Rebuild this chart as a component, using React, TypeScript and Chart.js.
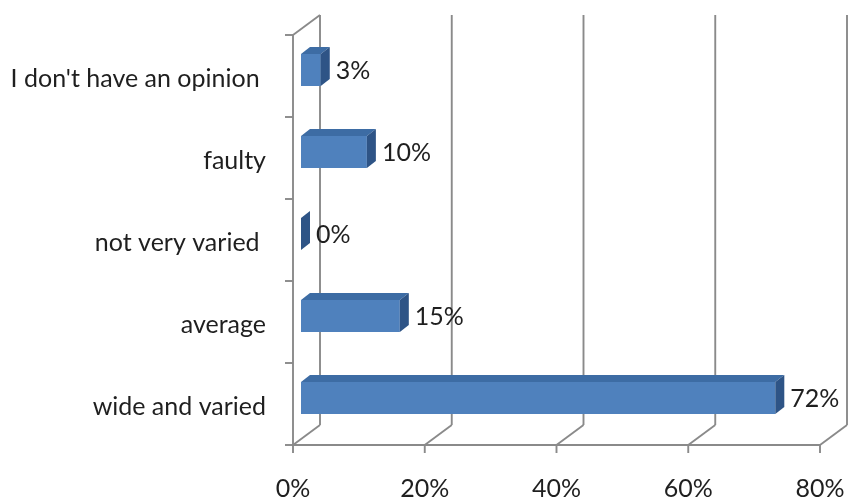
import React, { useEffect, useRef } from "react";
import { Chart, registerables } from "chart.js";

Chart.register(...registerables);

// Survey answers, listed top to bottom
const categories = [
  "I don't have an opinion ",
  "faulty",
  "not very varied ",
  "average",
  "wide and varied",
];
const shares = [3, 10, 0, 15, 72];
const xTicks = [0, 20, 40, 60, 80];

const FONT = "Lato, 'Open Sans', sans-serif";
const FONT_SIZE = 25;
const TEXT = "#1f1f1f";
const GRID = "#8a8a8a";
const FRONT = "#4F81BD";
const TOP = "#3D6CA4";
const SIDE = "#2E5486";

// Offsets of the axis planes relative to the plane of the bar fronts
const AXIS_DX = -8;
const AXIS_DY = 6;
const BACK_DX = 19;
const BACK_DY = -14;
// Depth of each bar
const BAR_DX = 9;
const BAR_DY = -7;

const noPadding = (s: any) => {
  s.paddingLeft = 0;
  s.paddingRight = 0;
  s.paddingTop = 0;
  s.paddingBottom = 0;
};

const boxPlugin = {
  id: "box3d",
  beforeDatasetsDraw(chart: any) {
    const { ctx, chartArea } = chart;
    const { left, right, top, bottom } = chartArea;
    const xs = chart.scales.x;
    ctx.save();
    ctx.strokeStyle = GRID;
    ctx.lineWidth = 1.9;
    ctx.lineCap = "butt";
    const line = (x1: number, y1: number, x2: number, y2: number) => {
      ctx.beginPath();
      ctx.moveTo(x1, y1);
      ctx.lineTo(x2, y2);
      ctx.stroke();
    };
    // back wall verticals and floor diagonals
    xTicks.forEach((v) => {
      const px = xs.getPixelForValue(v);
      line(px + BACK_DX, top + BACK_DY, px + BACK_DX, bottom + BACK_DY);
      line(px + AXIS_DX, bottom + AXIS_DY, px + BACK_DX, bottom + BACK_DY);
      line(px + AXIS_DX, bottom + AXIS_DY, px + AXIS_DX, bottom + AXIS_DY + 8);
    });
    // left wall
    line(left + AXIS_DX, top + AXIS_DY, left + AXIS_DX, bottom + AXIS_DY);
    line(left + AXIS_DX, top + AXIS_DY, left + BACK_DX, top + BACK_DY);
    const band = (bottom - top) / categories.length;
    for (let i = 0; i <= categories.length; i++) {
      const y = top + i * band + AXIS_DY;
      line(left + AXIS_DX - 8, y, left + AXIS_DX, y);
    }
    // front floor edge
    line(left + AXIS_DX, bottom + AXIS_DY, right + AXIS_DX, bottom + AXIS_DY);
    ctx.restore();
  },
  afterDatasetsDraw(chart: any) {
    const { ctx } = chart;
    const meta = chart.getDatasetMeta(0);
    ctx.save();
    meta.data.forEach((bar: any, i: number) => {
      const { x, y, base, height } = bar.getProps(["x", "y", "base", "height"], true);
      const t = y - height / 2;
      const b = y + height / 2;
      // top face
      ctx.fillStyle = TOP;
      ctx.beginPath();
      ctx.moveTo(base, t);
      ctx.lineTo(x, t);
      ctx.lineTo(x + BAR_DX, t + BAR_DY);
      ctx.lineTo(base + BAR_DX, t + BAR_DY);
      ctx.closePath();
      ctx.fill();
      // side face
      ctx.fillStyle = SIDE;
      ctx.beginPath();
      ctx.moveTo(x, t);
      ctx.lineTo(x + BAR_DX, t + BAR_DY);
      ctx.lineTo(x + BAR_DX, b + BAR_DY);
      ctx.lineTo(x, b);
      ctx.closePath();
      ctx.fill();
      // value label
      ctx.fillStyle = TEXT;
      ctx.font = `${FONT_SIZE}px ${FONT}`;
      ctx.textAlign = "left";
      ctx.textBaseline = "middle";
      ctx.fillText(`${shares[i]}%`, x + BAR_DX + 6, y + 1);
    });
    ctx.restore();
  },
};

export default function App() {
  const ref = useRef<HTMLCanvasElement>(null);

  useEffect(() => {
    document.body.style.margin = "0";
    const chart = new Chart(ref.current!, {
      type: "bar",
      data: {
        labels: categories,
        datasets: [
          {
            data: shares,
            backgroundColor: FRONT,
            borderWidth: 0,
            categoryPercentage: 1,
            barPercentage: 0.39,
          },
        ],
      },
      options: {
        indexAxis: "y",
        animation: false,
        responsive: false,
        layout: { padding: { left: 0, top: 29, right: 22, bottom: 0 } },
        plugins: { legend: { display: false }, tooltip: { enabled: false } },
        scales: {
          x: {
            min: 0,
            max: 80,
            grid: { display: false },
            border: { display: false },
            afterFit: (s: any) => {
              s.height = 60;
              noPadding(s);
            },
            ticks: {
              stepSize: 20,
              padding: 27,
              labelOffset: AXIS_DX,
              color: TEXT,
              font: { family: FONT, size: FONT_SIZE },
              callback: (v: any) => `${v}%`,
            },
          },
          y: {
            grid: { display: false },
            border: { display: false },
            afterFit: (s: any) => {
              s.width = 301;
              noPadding(s);
            },
            ticks: {
              padding: 27,
              labelOffset: AXIS_DY + 3,
              color: TEXT,
              font: { family: FONT, size: FONT_SIZE },
            },
          },
        },
      },
      plugins: [boxPlugin],
    });
    return () => chart.destroy();
  }, []);

  return <canvas ref={ref} width={850} height={499} style={{ display: "block" }} />;
}
